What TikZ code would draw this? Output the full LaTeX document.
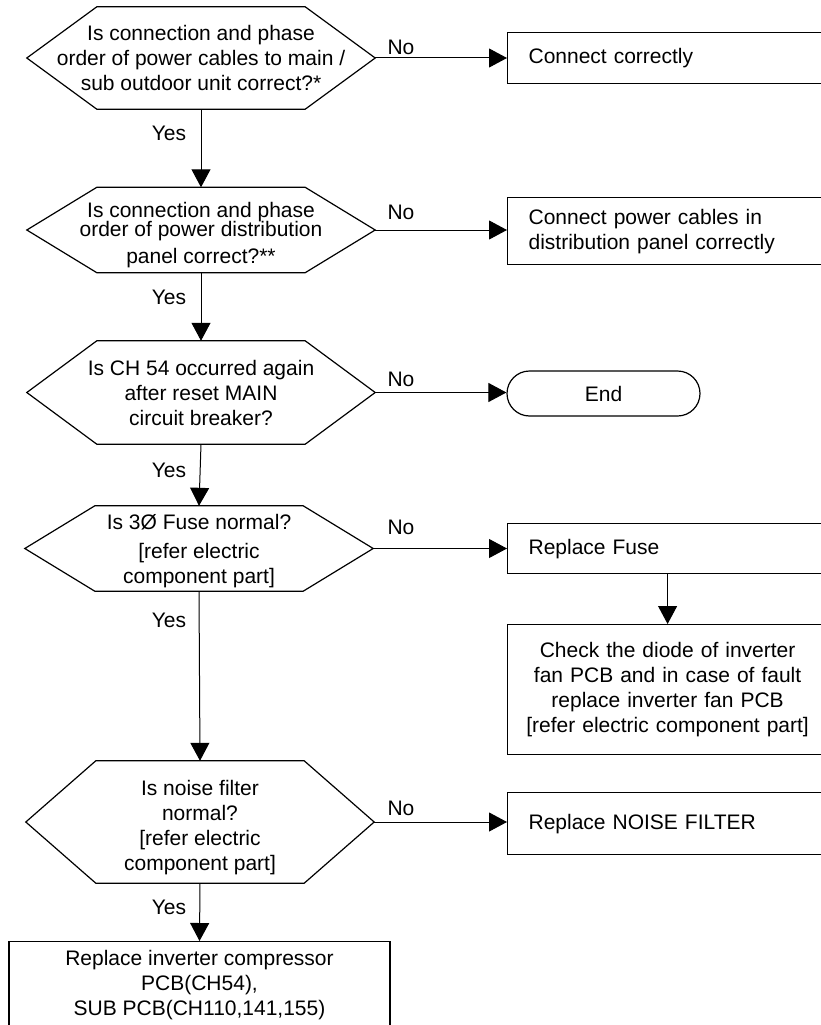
\documentclass[tikz,border=0pt]{standalone}
\usepackage{fontspec}
\setmainfont{Liberation Sans}
\usetikzlibrary{arrows.meta,shapes.misc}
\newcommand\myfs{\fontsize{21}{25}\selectfont}
\newcommand\hexdraw[1]{\draw[line width=1.2pt,line join=miter] (#1.west) -- ([xshift=70pt]#1.north west) -- ([xshift=-70pt]#1.north east) -- (#1.east) -- ([xshift=-70pt]#1.south east) -- ([xshift=70pt]#1.south west) -- cycle;}
\tikzset{
  hexnode/.style={inner sep=0pt, minimum width=348pt, align=center, font=\myfs},
  lbox/.style={draw, line width=1.2pt, rectangle, anchor=north west, inner xsep=21pt, inner ysep=0pt, text width=288pt, align=left, font=\myfs},
  arr/.style={line width=1pt, -{Triangle[length=18pt,width=19pt]}},
  lbl/.style={font=\myfs, inner sep=0pt, anchor=base}
}
\begin{document}
\begin{tikzpicture}[x=1pt,y=-1pt]
\useasboundingbox (0,0) rectangle (821,1025);
% decisions
\node[hexnode, minimum height=102pt] (h1) at (201,58) {Is connection and phase\\order of power cables to main /\\sub outdoor unit correct?*};
\node[hexnode, minimum height=85pt] (h2) at (201,230) {\rule{0pt}{26pt}Is connection and phase\\[-6pt]order of power distribution\\[2pt]panel correct?**};
\node[hexnode, minimum height=103pt] (h3) at (201,392.5) {Is CH 54 occurred again\\after reset MAIN\\circuit breaker?};
\node[hexnode, minimum height=85pt] (h4) at (199,548.5) {\rule{0pt}{21pt}Is 3Ø Fuse normal?\\[4pt]{[}refer electric\\component part{]}};
\node[hexnode, minimum height=122pt] (h5) at (200,822) {\rule{0pt}{26pt}Is noise filter\\normal?\\{[}refer electric\\component part{]}};
\hexdraw{h1}
\hexdraw{h2}
\hexdraw{h3}
\hexdraw{h4}
\hexdraw{h5}
% actions
\node[lbox, minimum height=51pt] (b1) at (507,32) {Connect correctly};
\node[lbox, minimum height=67pt] (b2) at (507,197) {Connect power cables in\\distribution panel correctly};
\node[draw, line width=1.2pt, rounded rectangle, minimum width=193pt, minimum height=45pt, inner sep=0pt, font=\myfs] (end) at (603.5,393.5) {End};
\node[lbox, minimum height=50pt] (fuse) at (507,523) {Replace Fuse};
\node[draw, line width=1.2pt, rectangle, anchor=north west, inner xsep=8pt, inner ysep=0pt, text width=304pt, align=center, minimum height=130pt, font=\myfs] (check) at (507,624) {Check the diode of inverter\\fan PCB and in case of fault\\replace inverter fan PCB\\{[}refer electric component part{]}};
\node[lbox, minimum height=62pt] (noise) at (507,792) {Replace NOISE FILTER};
\node[draw, line width=1.2pt, rectangle, anchor=north, minimum width=381pt, minimum height=87pt, inner sep=0pt, align=center, font=\myfs] (final) at (199.5,941) {Replace inverter compressor\\PCB(CH54),\\SUB PCB(CH110,141,155)};
% connectors
\draw[arr] (h1.south) -- (h2.north);
\draw[arr] (h2.south) -- (h3.north);
\draw[arr] (h3.south) -- (h4.north);
\draw[arr] (h4.south) -- (h5.north);
\draw[arr] (h5.south) -- (final.north);
\draw[arr] (h1.east) -- (h1.east -| b1.west);
\draw[arr] (h2.east) -- (h2.east -| b2.west);
\draw[arr] (h3.east) -- (h3.east -| end.west);
\draw[arr] (h4.east) -- (h4.east -| fuse.west);
\draw[arr] (h5.east) -- (h5.east -| noise.west);
\draw[arr] (fuse.south -| check.north) -- (check.north);
% labels
\node[lbl] (n1) at (401,54.5) {No};
\node[lbl] (n2) at (401,219.5) {No};
\node[lbl] (n3) at (401,386.5) {No};
\node[lbl] (n4) at (401,534.5) {No};
\node[lbl] (n5) at (401,815.5) {No};
\node[lbl] (y1) at (169,140.5) {Yes};
\node[lbl] (y2) at (169,304.5) {Yes};
\node[lbl] (y3) at (169,477.5) {Yes};
\node[lbl] (y4) at (169,627.5) {Yes};
\node[lbl] (y5) at (169,914.5) {Yes};
\end{tikzpicture}
\end{document}
